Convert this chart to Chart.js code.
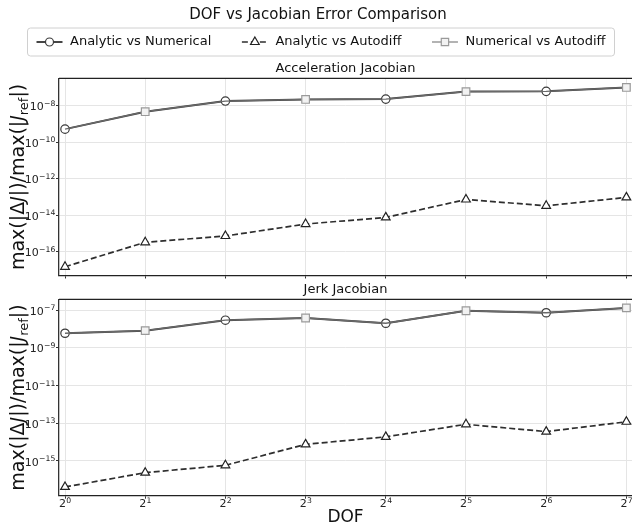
<!DOCTYPE html>
<html>
<head>
<meta charset="utf-8">
<script src="https://cdn.jsdelivr.net/npm/chart.js@4.4.1/dist/chart.umd.min.js"></script>
<style>
  html, body { margin: 0; padding: 0; background: #fff; }
  #fig { position: relative; width: 632px; height: 529px; overflow: hidden; }
  #fig canvas { position: absolute; left: 0; }
</style>
</head>
<body>
<div id="fig">
  <canvas id="accChart" width="632" height="288" style="top:0"></canvas>
  <canvas id="jerkChart" width="632" height="249" style="top:280px"></canvas>
</div>
<script>
// data
const dof = [1, 2, 4, 8, 16, 32, 64, 128];
const seriesNames = ['Analytic vs Numerical', 'Analytic vs Autodiff', 'Numerical vs Autodiff'];

const accAnaNum  = [5.2e-10, 4.7e-9, 1.8e-8, 2.2e-8, 2.3e-8, 5.9e-8, 6.1e-8, 1.0e-7];
const accAnaAuto = [1.5e-17, 3.3e-16, 7.3e-16, 3.3e-15, 7.6e-15, 7.3e-14, 3.3e-14, 9.5e-14];
const accNumAuto = [5.2e-10, 4.7e-9, 1.8e-8, 2.2e-8, 2.3e-8, 5.9e-8, 6.1e-8, 1.0e-7];

const jerkAnaNum  = [5.9e-9, 8.1e-9, 2.9e-8, 3.8e-8, 2.0e-8, 9.2e-8, 7.2e-8, 1.3e-7];
const jerkAnaAuto = [4.2e-17, 2.4e-16, 5.9e-16, 7.6e-15, 1.9e-14, 8.8e-14, 3.6e-14, 1.2e-13];
const jerkNumAuto = [5.9e-9, 8.1e-9, 2.9e-8, 3.8e-8, 2.0e-8, 9.2e-8, 7.2e-8, 1.3e-7];

const accTicks  = [1e-16, 1e-14, 1e-12, 1e-10, 1e-8];
const jerkTicks = [1e-15, 1e-13, 1e-11, 1e-9, 1e-7];

const FONT = '"DejaVu Sans", sans-serif';
Chart.defaults.font.family = FONT;

function pts(vals) {
    return dof.map((d, i) => ({ x: d, y: vals[i] }));
}

// circles on even points, squares on odd points (like markevery)
const circleR = dof.map((_, i) => i % 2 === 0 ? 4.2 : 0);
const squareR = dof.map((_, i) => i % 2 === 1 ? 5.4 : 0);

const styles = [
    { color: '#454545', width: 2, dash: [], point: 'circle', r: 4, face: '#ffffff', edge: '#3a3a3a' },
    { color: '#2e2e2e', width: 1.7, dash: [6, 3], point: 'triangle', r: 5, face: '#ffffff', edge: '#222222' },
    { color: '#8a8a8a', width: 1.3, dash: [], point: 'rect', r: 5.2, face: '#f2f2f2', edge: '#9a9a9a' }
];

// base with a raised exponent, mathtext style
function drawPower(ctx, base, exp, x, y, align) {
    const baseFont = '11px ' + FONT, expFont = '7.7px ' + FONT;
    const e = String(exp).replace('-', '\u2212');
    ctx.font = baseFont;
    const wb = ctx.measureText(base).width;
    ctx.font = expFont;
    const we = ctx.measureText(e).width;
    let left = align === 'right' ? x - wb - we : x - (wb + we) / 2;
    ctx.textAlign = 'left';
    ctx.textBaseline = 'alphabetic';
    ctx.font = baseFont;
    ctx.fillText(base, left, y);
    ctx.font = expFont;
    ctx.fillText(e, left + wb + 0.3, y - 4.6);
}

function drawYLabel(ctx, cx, cy) {
    const size = 19;
    const parts = [
        { t: 'max(|Δ', f: size + 'px ' + FONT, dy: 0 },
        { t: 'J', f: 'italic ' + size + 'px ' + FONT, dy: 0 },
        { t: '|)/max(|', f: size + 'px ' + FONT, dy: 0 },
        { t: 'J', f: 'italic ' + size + 'px ' + FONT, dy: 0 },
        { t: 'ref', f: Math.round(size * 0.7) + 'px ' + FONT, dy: size * 0.22 },
        { t: '|)', f: size + 'px ' + FONT, dy: 0 }
    ];
    let total = 0;
    parts.forEach(p => { ctx.font = p.f; p.w = ctx.measureText(p.t).width; total += p.w; });
    ctx.save();
    ctx.translate(cx, cy);
    ctx.rotate(-Math.PI / 2);
    ctx.fillStyle = '#111';
    ctx.textBaseline = 'alphabetic';
    ctx.textAlign = 'left';
    let x = -total / 2;
    parts.forEach(p => {
        ctx.font = p.f;
        ctx.fillText(p.t, x, p.dy);
        x += p.w;
    });
    ctx.restore();
}

function drawLegend(ctx) {
    const fs = 13;
    const left = 27.5, right = 614.5, top = 28, h = 28, cy = 42;
    const pad = 9, handle = 26, gap = 7.5;
    ctx.font = fs + 'px ' + FONT;
    const widths = seriesNames.map(n => ctx.measureText(n).width);
    const used = widths.reduce((a, w) => a + handle + gap + w, 0) + pad * 2;
    const col = (right - left - used) / (seriesNames.length - 1);

    ctx.save();
    ctx.beginPath();
    ctx.roundRect(left, top, right - left, h, 3);
    ctx.fillStyle = '#ffffff';
    ctx.fill();
    ctx.strokeStyle = '#d0d0d0';
    ctx.lineWidth = 1;
    ctx.stroke();

    let x = left + pad;
    seriesNames.forEach((name, i) => {
        const s = styles[i];
        ctx.beginPath();
        ctx.setLineDash(s.dash);
        ctx.strokeStyle = s.color;
        ctx.lineWidth = s.width;
        ctx.moveTo(x, cy);
        ctx.lineTo(x + handle, cy);
        ctx.stroke();
        ctx.setLineDash([]);
        ctx.fillStyle = s.face;
        ctx.strokeStyle = s.edge;
        ctx.lineWidth = 1.2;
        Chart.helpers.drawPoint(ctx, { pointStyle: s.point, radius: s.r, rotation: 0, borderWidth: 1.2 }, x + handle / 2, cy);
        ctx.fillStyle = '#111';
        ctx.font = fs + 'px ' + FONT;
        ctx.textBaseline = 'middle';
        ctx.textAlign = 'left';
        ctx.fillText(name, x + handle + gap, cy);
        x += handle + gap + widths[i] + col;
    });
    ctx.restore();
}

const decor = {
    id: 'decor',
    afterDraw(chart, args, opts) {
        const { ctx, chartArea } = chart;
        const xs = chart.scales.x, ys = chart.scales.y;
        ctx.save();
        // top spine
        ctx.strokeStyle = '#222';
        ctx.lineWidth = 1.3;
        ctx.beginPath();
        ctx.moveTo(chartArea.left, chartArea.top);
        ctx.lineTo(chartArea.right, chartArea.top);
        ctx.stroke();

        // tick labels, placed with the library's scales
        ctx.fillStyle = '#222';
        ys.ticks.forEach(t => {
            const py = ys.getPixelForValue(t.value);
            drawPower(ctx, '10', Math.round(Math.log10(t.value)), chartArea.left - 4, py + 4.6, 'right');
        });
        if (opts.showX) {
            xs.ticks.forEach(t => {
                const px = xs.getPixelForValue(t.value);
                drawPower(ctx, '2', Math.round(Math.log2(t.value)), px, chartArea.bottom + 11.5, 'center');
            });
        }

        // subplot title
        ctx.fillStyle = '#111';
        ctx.font = '13px ' + FONT;
        ctx.textAlign = 'center';
        ctx.textBaseline = 'alphabetic';
        ctx.fillText(opts.title, (chartArea.left + chartArea.right) / 2, chartArea.top - 6.5);
        if (opts.header) {
            ctx.font = '15px ' + FONT;
            ctx.textBaseline = 'middle';
            ctx.fillText('DOF vs Jacobian Error Comparison', 318, 15);
            drawLegend(ctx);
        }
        ctx.restore();
        drawYLabel(ctx, 23.5, (chartArea.top + chartArea.bottom) / 2);
    }
};

function makeChart(id, o) {
    const sets = [o.anaNum, o.anaAuto, o.numAuto];
    const radii = [circleR, 5, squareR];
    const orders = [2, 3, 1];
    const chart = new Chart(document.getElementById(id), {
        type: 'line',
        data: {
            datasets: sets.map((vals, i) => ({
                label: seriesNames[i],
                data: pts(vals),
                borderColor: i === 2 ? '#6a6a6a' : styles[i].color,
                borderWidth: styles[i].width,
                borderDash: styles[i].dash,
                pointStyle: styles[i].point,
                pointRadius: radii[i],
                pointBackgroundColor: styles[i].face,
                pointBorderColor: styles[i].edge,
                pointBorderWidth: 1.2,
                tension: 0,
                fill: false,
                order: orders[i]
            }))
        },
        options: {
            responsive: false,
            animation: false,
            events: [],
            layout: { padding: { top: o.padTop, left: 0, right: 0, bottom: 0 }, autoPadding: false },
            plugins: {
                legend: { display: false },
                title: { display: false },
                tooltip: { enabled: false },
                decor: { title: o.title, header: o.header, showX: o.showX }
            },
            scales: {
                x: {
                    type: 'logarithmic',
                    bounds: 'data',
                    min: Math.pow(2, -0.075),
                    max: Math.pow(2, 7.07),
                    afterBuildTicks: s => { s.ticks = dof.map(v => ({ value: v })); },
                    afterFit: s => { s.height = o.xHeight; },
                    grid: { color: '#e5e5e5', lineWidth: 1, tickLength: 3, tickColor: '#333', drawTicks: true },
                    border: { color: '#222', width: 1.3 },
                    ticks: { display: false },
                    title: { display: o.showX, text: 'DOF', color: '#111', font: { size: 17 }, padding: { top: 0, bottom: 1 } }
                },
                y: {
                    type: 'logarithmic',
                    bounds: 'data',
                    min: Math.pow(10, o.yExp[0]),
                    max: Math.pow(10, o.yExp[1]),
                    afterBuildTicks: s => { s.ticks = o.yTicks.map(v => ({ value: v })); },
                    afterFit: s => { s.width = 59; },
                    grid: { color: '#e5e5e5', lineWidth: 1, tickLength: 3, tickColor: '#333', drawTicks: true },
                    border: { color: '#333', width: 1.3 },
                    ticks: { display: false }
                }
            }
        },
        plugins: [decor]
    });
    // nudge the x axis box so the plot area ends where the figure's does
    const diff = o.bottom - chart.chartArea.bottom;
    if (Math.abs(diff) > 0.05) {
        o.xHeight -= diff;
        chart.update();
    }
    return chart;
}

makeChart('accChart', {
    anaNum: accAnaNum, anaAuto: accAnaAuto, numAuto: accNumAuto,
    yTicks: accTicks, yExp: [-17.3, -6.5],
    padTop: 78.3, xHeight: 12.5, bottom: 275.5, showX: false,
    title: 'Acceleration Jacobian', header: true
});

makeChart('jerkChart', {
    anaNum: jerkAnaNum, anaAuto: jerkAnaAuto, numAuto: jerkNumAuto,
    yTicks: jerkTicks, yExp: [-16.84, -6.43],
    padTop: 19.3, xHeight: 33.3, bottom: 215.7, showX: true,
    title: 'Jerk Jacobian', header: false
});
</script>
</body>
</html>
